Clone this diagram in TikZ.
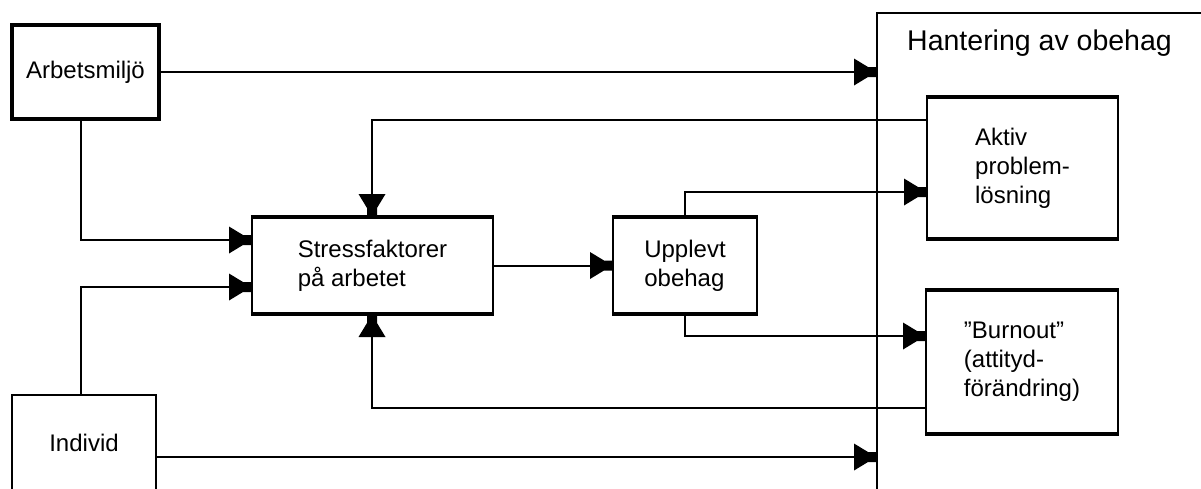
\documentclass[tikz,border=0pt]{standalone}
\usepackage{fontspec}
\setmainfont{Liberation Sans}
\usetikzlibrary{arrows.meta}

% heavy arrow head: broad wedge with a short square nose
\pgfdeclarearrow{
  name = Wedge,
  parameters = {},
  setup code = {
    \pgfarrowssettipend{0pt}
    \pgfarrowssetlineend{-12pt}
    \pgfarrowssetbackend{-23pt}
    \pgfarrowshullpoint{0pt}{5pt}
    \pgfarrowshullpoint{0pt}{-5pt}
    \pgfarrowshullpoint{-23pt}{13.5pt}
    \pgfarrowshullpoint{-23pt}{-13.5pt}
  },
  drawing code = {
    \pgfpathmoveto{\pgfqpoint{0pt}{5pt}}
    \pgfpathlineto{\pgfqpoint{-9pt}{5pt}}
    \pgfpathlineto{\pgfqpoint{-23pt}{13.5pt}}
    \pgfpathlineto{\pgfqpoint{-23pt}{-13.5pt}}
    \pgfpathlineto{\pgfqpoint{-9pt}{-5pt}}
    \pgfpathlineto{\pgfqpoint{0pt}{-5pt}}
    \pgfpathclose
    \pgfusepathqfill
  }
}

\begin{document}
\begin{tikzpicture}[x=1pt,y=-1pt,
  box/.style={draw, line width=2.2pt, fill=white, outer sep=0pt, inner sep=0pt,
              align=left, font=\fontsize{24}{29}\selectfont},
  rim/.style={line width=4.5pt, shorten <=-1.1pt, shorten >=-1.1pt},
  conn/.style={line width=2pt},
  arr/.style={conn, -Wedge}]
\useasboundingbox (0,0) rectangle (1201,488);

% coping frame (open to the right and below)
\coordinate (hant) at (877,13);
\coordinate (hantB) at (877,495);
\coordinate (hantR) at (1210,13);
\draw[conn] (hantB) -- (hant) -- (hantR);
\node[font=\fontsize{28.5}{34}\selectfont, anchor=base west, inner sep=0pt] (title) at (907,50) {Hantering av obehag};

% boxes
\node[box, line width=3.2pt, minimum width=147pt, minimum height=94pt] (arb) at (85.5,72) {Arbetsmiljö};
\node[box, minimum width=144pt, minimum height=96pt] (ind) at (84,443) {Individ};
\node[box, minimum width=241pt, minimum height=97pt] (stress) at (372.5,265.5) {Stressfaktorer\\på arbetet};
\node[box, minimum width=144pt, minimum height=97pt] (upp) at (685,265.5) {Upplevt\\obehag};
\node[box, minimum width=191pt, minimum height=142pt] (akt) at (1022.5,168) {Aktiv\\problem-\\lösning};
\node[box, minimum width=192pt, minimum height=144pt] (burn) at (1022,362) {”Burnout”\\(attityd-\\förändring)};

% heavy top and bottom edges
\foreach \b in {arb,stress,upp,akt,burn}{
  \draw[rim] (\b.north west) -- (\b.north east);
  \draw[rim] (\b.south west) -- (\b.south east);
}

% bend points
\coordinate (j1) at (81,240);
\coordinate (j2) at (81,287);
\coordinate (j3) at (685,192);
\coordinate (j4) at (685,336);
\coordinate (j5) at (372,120);
\coordinate (j6) at (372,408);

% connectors
\draw[arr] (arb.east) -- (arb.east -| hant);
\draw[arr] (arb.south -| j1) -- (j1) -- (j1 -| stress.west);
\draw[arr] (ind.north -| j2) -- (j2) -- (j2 -| stress.west);
\draw[arr] (ind.east |- 0,457) -- (hant |- 0,457);
\draw[arr] (stress.east) -- (upp.west);
\draw[arr] (upp.north -| j3) -- (j3) -- (j3 -| akt.west);
\draw[arr] (upp.south -| j4) -- (j4) -- (j4 -| burn.west);
\draw[arr] (akt.west |- j5) -- (j5) -- (j5 |- stress.north);
\draw[arr] (burn.west |- j6) -- (j6) -- (j6 |- stress.south);
\end{tikzpicture}
\end{document}
